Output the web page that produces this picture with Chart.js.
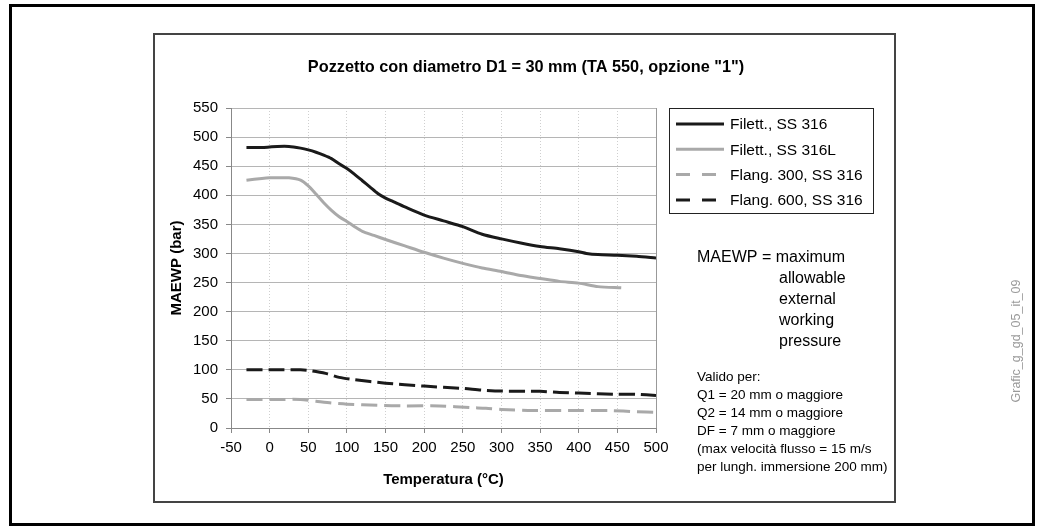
<!DOCTYPE html>
<html><head><meta charset="utf-8">
<script src="https://cdn.jsdelivr.net/npm/chart.js@4.4.1/dist/chart.umd.min.js"></script>
<style>html,body{margin:0;padding:0;background:#fff;overflow:hidden}</style>
</head><body>
<canvas id="c" width="1040" height="529"></canvas>
<script>
const chartTitle = 'Pozzetto con diametro D1 = 30 mm (TA 550, opzione "1")';
const xTitle = 'Temperatura (°C)';
const yTitle = 'MAEWP (bar)';
const seriesLabels = ['Filett., SS 316', 'Filett., SS 316L', 'Flang. 300, SS 316', 'Flang. 600, SS 316'];
const xTicks = [-50, 0, 50, 100, 150, 200, 250, 300, 350, 400, 450, 500];
const yTicks = [0, 50, 100, 150, 200, 250, 300, 350, 400, 450, 500, 550];

const tempFilett316 = [-30,-10,0,10,25,40,50,60,70,80,90,100,110,120,130,140,150,160,175,200,225,250,275,300,325,350,375,400,410,425,450,475,500];
const valFilett316  = [482,482,483,484,484,481,478,474,469,463,454,446,436,425,414,403,395,389,380,366,356,346,333,325,318,312,308,303,300,298,297,295,292];

const tempFilett316L = [-30,-10,0,10,25,40,50,60,70,80,90,100,110,120,135,150,175,200,225,250,275,300,325,350,375,400,425,455];
const valFilett316L  = [426,429,430,430,430,426,416,402,387,374,363,355,346,338,331,324,313,302,292,283,275,269,262,257,252,249,243,241];

const tempFlang300 = [-30,0,40,60,80,100,140,175,220,260,280,300,340,400,440,475,500];
const valFlang300  = [49,49,49,46,43,41,39,38,38,35,34,32,30,30,30,28,27];

const tempFlang600 = [-30,0,40,50,60,75,90,110,150,200,250,275,300,350,375,400,450,475,500];
const valFlang600  = [100,100,100,99,97,93,87,83,77,72,68,65,63.5,63,61,60,58,58,56];

const annotMain = ['MAEWP = maximum', 'allowable', 'external', 'working', 'pressure'];
const annotValid = ['Valido per:', 'Q1 = 20 mm o maggiore', 'Q2 = 14 mm o maggiore', 'DF = 7 mm o maggiore', '(max velocità flusso = 15 m/s', 'per lungh. immersione 200 mm)'];
const watermark = 'Grafic_g_gd_05_it_09';

const FONT = '"Liberation Sans", Arial, sans-serif';
const pts = (xs, ys) => xs.map((x, i) => ({x: x, y: ys[i]}));

const legendDash = [[], [], [14, 12], [14, 12]];

const decor = {
  id: 'decor',
  beforeDraw(chart) {
    const ctx = chart.ctx;
    ctx.save();
    ctx.fillStyle = '#fff';
    ctx.fillRect(0, 0, chart.width, chart.height);
    ctx.restore();
  },
  afterDraw(chart) {
    const ctx = chart.ctx;
    const a = chart.chartArea;
    ctx.save();
    ctx.strokeStyle = '#999'; ctx.lineWidth = 1; ctx.setLineDash([]);
    ctx.beginPath(); ctx.moveTo(a.right + 0.5, a.top); ctx.lineTo(a.right + 0.5, a.bottom); ctx.stroke();
    ctx.strokeStyle = '#000'; ctx.lineWidth = 3;
    ctx.strokeRect(10.5, 5.5, 1023, 519);
    ctx.strokeStyle = '#444'; ctx.lineWidth = 2;
    ctx.strokeRect(154, 34, 741, 468);
    ctx.fillStyle = '#000';
    ctx.font = 'bold 16.3px ' + FONT;
    ctx.textAlign = 'center'; ctx.textBaseline = 'middle';
    ctx.fillText(chartTitle, 526, 68);
    ctx.strokeStyle = '#222'; ctx.lineWidth = 1;
    ctx.strokeRect(669.5, 108.5, 204, 105);
    ctx.font = '15.5px ' + FONT;
    ctx.textAlign = 'left';
    chart.data.datasets.forEach((ds, i) => {
      const y = 124 + i * 25.3;
      ctx.strokeStyle = ds.borderColor; ctx.lineWidth = ds.borderWidth;
      ctx.setLineDash(legendDash[i]);
      ctx.beginPath(); ctx.moveTo(676, y); ctx.lineTo(724, y); ctx.stroke();
      ctx.setLineDash([]);
      ctx.fillStyle = '#000';
      ctx.fillText(ds.label, 730, y + 1);
    });
    ctx.font = '16px ' + FONT;
    annotMain.forEach((t, i) => {
      ctx.fillText(t, i === 0 ? 697 : 779, 258 + i * 21);
    });
    ctx.font = '13.5px ' + FONT;
    annotValid.forEach((t, i) => {
      ctx.fillText(t, 697, 377 + i * 18);
    });
    ctx.save();
    ctx.translate(1017, 341);
    ctx.rotate(-Math.PI / 2);
    ctx.font = '12.5px ' + FONT;
    ctx.fillStyle = '#9a9a9a';
    ctx.textAlign = 'center';
    ctx.fillText(watermark, 0, 0);
    ctx.restore();
    ctx.restore();
  }
};

const lineDs = (label, data, color, dash) => ({
  label: label, data: data, borderColor: color, backgroundColor: color,
  borderWidth: 3, borderDash: dash, pointRadius: 0, tension: 0.25,
  fill: false
});

new Chart(document.getElementById('c'), {
  type: 'line',
  data: {
    datasets: [
      lineDs(seriesLabels[0], pts(tempFilett316, valFilett316), '#1a1a1a', []),
      lineDs(seriesLabels[1], pts(tempFilett316L, valFilett316L), '#a9a9a9', []),
      lineDs(seriesLabels[2], pts(tempFlang300, valFlang300), '#a9a9a9', [16, 7]),
      lineDs(seriesLabels[3], pts(tempFlang600, valFlang600), '#1a1a1a', [16, 6])
    ]
  },
  options: {
    responsive: false,
    animation: false,
    devicePixelRatio: 1,
    layout: {padding: {left: 164, right: 384, top: 108, bottom: 36}},
    plugins: {legend: {display: false}, title: {display: false}, tooltip: {enabled: false}},
    scales: {
      x: {
        type: 'linear', min: xTicks[0], max: xTicks[xTicks.length - 1],
        afterBuildTicks: s => { s.ticks = xTicks.map(v => ({value: v})); },
        afterFit: s => { s.height = 65; },
        ticks: {color: '#000', font: {family: FONT, size: 15}, padding: 6, maxRotation: 0, autoSkip: false},
        grid: {color: c => (c.tick && c.tick.value === 500) ? 'rgba(0,0,0,0)' : '#cfcfcf', lineWidth: 1, tickColor: '#888', tickLength: 5},
        border: {display: true, color: '#888', width: 1, dash: [1, 2]},
        title: {display: true, text: xTitle, color: '#000', font: {family: FONT, size: 15, weight: 'bold'}}
      },
      y: {
        type: 'linear', min: yTicks[0], max: yTicks[yTicks.length - 1],
        afterBuildTicks: s => { s.ticks = yTicks.map(v => ({value: v})); },
        afterFit: s => { s.width = 67; },
        ticks: {color: '#000', font: {family: FONT, size: 15}, padding: 8, autoSkip: false},
        grid: {color: '#b5b5b5', lineWidth: 1, tickColor: '#888', tickLength: 5},
        border: {display: true, color: '#888', width: 1},
        title: {display: true, text: yTitle, color: '#000', font: {family: FONT, size: 15, weight: 'bold'}}
      }
    }
  },
  plugins: [decor]
});
</script>
</body></html>
